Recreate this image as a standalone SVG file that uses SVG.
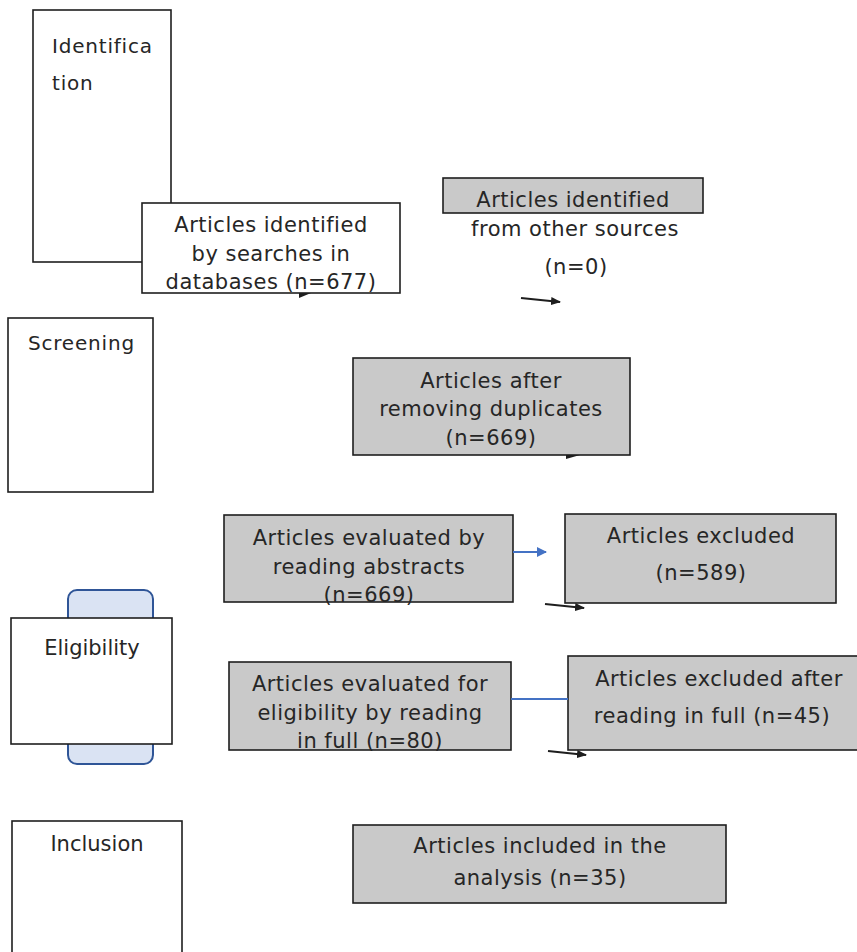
<svg xmlns="http://www.w3.org/2000/svg" width="857" height="952" viewBox="0 0 857 952">
<style>
.box{stroke:#1e1e1e;stroke-width:1.6}
.w{fill:#ffffff}
.g{fill:#c9c9c9}
text{font-family:"DejaVu Sans","Liberation Sans",sans-serif;fill:#262626;font-size:21px;letter-spacing:0.5px}
.c{text-anchor:middle}
.lab{font-size:20px;letter-spacing:0.8px}
.blk{stroke:#1e1e1e;stroke-width:2;fill:none}
.blu{stroke:#4472c4;stroke-width:2;fill:none}
</style>
<defs>
<marker id="ab" viewBox="0 0 10 10" refX="9" refY="5" markerWidth="5" markerHeight="5" orient="auto" markerUnits="strokeWidth"><path d="M0,1 L10,5 L0,9 z" fill="#1e1e1e"/></marker>
<marker id="abl" viewBox="0 0 10 10" refX="9" refY="5" markerWidth="5" markerHeight="5" orient="auto" markerUnits="strokeWidth"><path d="M0,0 L10,5 L0,10 z" fill="#4472c4"/></marker>
</defs>

<g id="identification">
<rect class="box w" x="33" y="10" width="138" height="252"/>
<text class="lab" x="52" y="53">Identifica</text>
<text class="lab" x="52" y="90">tion</text>
</g>

<g id="databases">
<rect class="box w" x="142" y="203" width="258" height="90"/>
<text class="c" x="271" y="232">Articles identified</text>
<text class="c" x="271" y="261">by searches in</text>
<text class="c" x="271" y="289">databases (n=677)</text>
<path d="M299,293 L311,293 L299,298 z" fill="#1e1e1e"/>
</g>

<g id="other-sources">
<rect class="box g" x="443" y="178" width="260" height="35"/>
<text class="c" x="573" y="207">Articles identified</text>
<text class="c" x="575" y="236">from other sources</text>
<text class="c" x="576" y="274">(n=0)</text>
</g>

<g id="screening">
<rect class="box w" x="8" y="318" width="145" height="174"/>
<text class="lab" x="28" y="350">Screening</text>
</g>

<g id="duplicates">
<rect class="box g" x="353" y="358" width="277" height="97"/>
<text class="c" x="491" y="388">Articles after</text>
<text class="c" x="491" y="416">removing duplicates</text>
<text class="c" x="491" y="445">(n=669)</text>
<path d="M566,455 L580,455 L566,459 z" fill="#1e1e1e"/>
</g>

<g id="abstracts">
<rect class="box g" x="224" y="515" width="289" height="87"/>
<text class="c" x="369" y="545">Articles evaluated by</text>
<text class="c" x="369" y="574">reading abstracts</text>
<text class="c" x="369" y="602">(n=669)</text>
</g>

<g id="excluded">
<rect class="box g" x="565" y="514" width="271" height="89"/>
<text class="c" x="701" y="543">Articles excluded</text>
<text class="c" x="701" y="580">(n=589)</text>
</g>

<g id="eligibility">
<rect x="68" y="590" width="85" height="174" rx="9" fill="#dae3f3" stroke="#2f5597" stroke-width="2"/>
<rect class="box w" x="11" y="618" width="161" height="126"/>
<text class="c" x="92" y="655" style="letter-spacing:0">Eligibility</text>
</g>

<g id="full-reading">
<rect class="box g" x="229" y="662" width="282" height="88"/>
<text class="c" x="370" y="691">Articles evaluated for</text>
<text class="c" x="370" y="720">eligibility by reading</text>
<text class="c" x="370" y="748">in full (n=80)</text>
</g>

<g id="excluded-full">
<rect class="box g" x="568" y="656" width="295" height="94"/>
<text class="c" x="719" y="686">Articles excluded after</text>
<text class="c" x="712" y="723">reading in full (n=45)</text>
</g>

<g id="inclusion">
<rect class="box w" x="12" y="821" width="170" height="140"/>
<text class="c" x="97" y="851" style="letter-spacing:0">Inclusion</text>
</g>

<g id="included">
<rect class="box g" x="353" y="825" width="373" height="78"/>
<text class="c" x="540" y="853">Articles included in the</text>
<text class="c" x="540" y="885">analysis (n=35)</text>
</g>

<g id="connectors">
<line class="blk" x1="521" y1="298" x2="560" y2="302" marker-end="url(#ab)"/>
<line class="blu" x1="513" y1="552" x2="546" y2="552" marker-end="url(#abl)"/>
<line class="blk" x1="545" y1="604" x2="584" y2="608" marker-end="url(#ab)"/>
<line class="blk" x1="548" y1="751" x2="586" y2="755" marker-end="url(#ab)"/>
<line class="blu" x1="511" y1="699" x2="568" y2="699"/>
</g>
</svg>
